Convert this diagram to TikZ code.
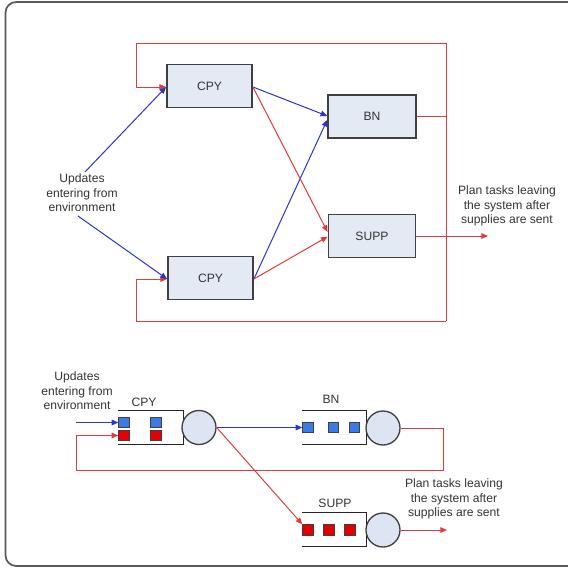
\documentclass[tikz,border=0pt]{standalone}
\usepackage{fontspec}
\setmainfont{Liberation Sans}
\usetikzlibrary{arrows.meta}
\definecolor{boxfill}{HTML}{E4EAF4}
\definecolor{ballfill}{HTML}{DCE5F1}
\definecolor{edge}{HTML}{404040}
\definecolor{txt}{HTML}{333333}
\definecolor{linkred}{HTML}{E23B3B}
\definecolor{linkblue}{HTML}{2B35C8}
\definecolor{sqblue}{HTML}{3B7BE6}
\definecolor{sqred}{HTML}{E40000}
\begin{document}
\begin{tikzpicture}[x=0.75pt,y=-0.75pt,
  font=\fontsize{9.1pt}{10.9pt}\selectfont, text=txt,
  arr/.tip={Triangle[length=5pt,width=4.2pt]},
  redl/.style={draw=linkred, line width=0.75pt},
  bluel/.style={draw=linkblue, line width=0.75pt},
  stage/.style={draw=edge, fill=boxfill, line width=1.1pt, minimum width=64pt, minimum height=32pt, inner sep=0pt},
  lbl/.style={align=center, inner sep=0pt},
  queue/.style={minimum width=48.75pt, minimum height=24.75pt, inner sep=0pt},
  server/.style={circle, draw=edge, fill=ballfill, line width=1pt, minimum size=25.5pt, inner sep=0pt},
  bsq/.style={draw=edge, fill=sqblue, line width=0.6pt, minimum size=7.9pt, inner sep=0pt},
  rsq/.style={draw=edge, fill=sqred, line width=0.6pt, minimum size=7.9pt, inner sep=0pt},
  qline/.style={draw=black!85, line width=0.8pt}]
\useasboundingbox (0,0) rectangle (568,568);
% frame
\draw[draw=black!65, line width=1.3pt, rounded corners=8pt] (572,2) -- (5.5,2) -- (5.5,566) -- (572,566);

% ---------- network view ----------
\node[stage] (cpyA) at (209.5,86) {CPY};
\node[stage] (cpyB) at (210.5,278) {CPY};
\node[stage, minimum width=66pt] (bn) at (372,116.5) {BN};
\node[stage, minimum width=65.5pt] (supp) at (372,236) {SUPP};
\node[lbl] (updA) at (82,193) {Updates\\entering from\\environment};
\node[lbl] (planA) at (507,206) {Plan tasks leaving\\the system after\\supplies are sent};

\coordinate (uA1) at (85,172);
\coordinate (uA2) at (78,216);
\coordinate (ltop) at (136,43);
\coordinate (rtop) at (446,43);
\coordinate (rbot) at (446,321);
\coordinate (lbot) at (136,321);
\coordinate (exitA) at (488,236);

% feedback loop
\draw[redl] (rtop) -- (rbot);
\draw[redl] (bn.east) -- (bn.east -| rtop);
\draw[redl, -arr] (rtop) -- (ltop) |- ([yshift=-0.75pt]cpyA.west);
\draw[redl, -arr] (rbot) -- (lbot) |- ([yshift=-0.75pt]cpyB.west);
\draw[redl, -arr] (supp.east) -- (exitA);

% incoming updates
\draw[bluel, -arr] (uA1) -- ([yshift=-0.75pt]cpyA.west);
\draw[bluel, -arr] (uA2) -- ([yshift=-0.75pt]cpyB.west);

% copies to BN and SUPP
\draw[bluel, -arr] ([yshift=-0.75pt]cpyA.east) -- ([yshift=0.4pt]bn.west);
\draw[bluel, -arr] ([yshift=-0.75pt]cpyB.east) -- ([yshift=-2.5pt]bn.west);
\draw[redl, -arr] ([yshift=-0.75pt]cpyA.east) -- ([yshift=3pt]supp.west);
\draw[redl, -arr] ([yshift=-0.75pt]cpyB.east) -- ([yshift=-0.5pt]supp.west);

% ---------- queueing view ----------
\node[lbl] (updB) at (77,391) {Updates\\entering from\\environment};
\node[lbl] (planB) at (454,499) {Plan tasks leaving\\the system after\\supplies are sent};
\node[lbl] (cpyL) at (144,402) {CPY};
\node[lbl] (bnL) at (331,399) {BN};
\node[lbl] (suppL) at (335,503) {SUPP};

\node[queue] (qc) at (150.5,427.5) {};
\node[queue, minimum width=48pt] (qb) at (334,427.5) {};
\node[queue, minimum width=48pt] (qs) at (334,529.5) {};
\foreach \q in {qc,qb,qs}
  \draw[qline] (\q.north west) -- (\q.north east) -- (\q.south east) -- (\q.south west);

\node[server] (sc) at (199,427.5) {};
\node[server] (sb) at (383,428) {};
\node[server] (ss) at (383,530) {};

\node[bsq] (cb1) at (124,422.5) {};
\node[bsq] (cb2) at (156,422.5) {};
\node[rsq] (cr1) at (124,435.5) {};
\node[rsq] (cr2) at (156,435.5) {};

\node[bsq] (bb1) at (308,427.5) {};
\node[bsq] (bb2) at (333.5,427.5) {};
\node[bsq] (bb3) at (354.5,427.5) {};

\node[rsq] (sr1) at (308,530) {};
\node[rsq] (sr2) at (328.7,530) {};
\node[rsq] (sr3) at (349.7,530) {};

\coordinate (inB) at (76,422.5);
\coordinate (fbR) at (443,470);
\coordinate (fbL) at (76,470);
\coordinate (exitB) at (447,530);

\draw[bluel, -arr] (inB) -- (cb1.west);
\draw[redl, -arr] (sb.east) -| (fbR) -- (fbL) |- (cr1.west);
\draw[bluel, -arr] (sc.east) -- (bb1.west);
\draw[redl, -arr] (sc.east) -- (sr1.north west);
\draw[redl, -arr] (ss.east) -- (exitB);
\end{tikzpicture}
\end{document}
